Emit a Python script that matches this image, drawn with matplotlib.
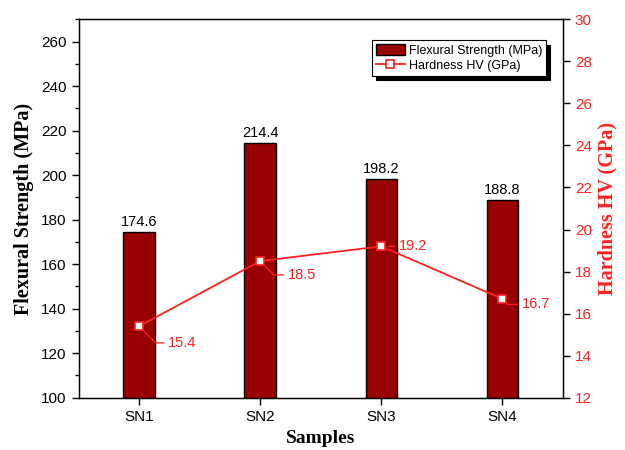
import numpy as np
import matplotlib
matplotlib.use("Agg")
import matplotlib.pyplot as plt
from matplotlib.ticker import MultipleLocator

samples = ["SN1", "SN2", "SN3", "SN4"]
flexural_strength = [174.6, 214.4, 198.2, 188.8]
hardness = [15.4, 18.5, 19.2, 16.7]

# label offsets (points) for the hardness values
hv_offsets = [(21, -12), (20, -10), (13, 0), (14, -4)]

plt.rcParams['font.family'] = ['Liberation Sans', 'DejaVu Sans']
serif = ['Liberation Serif', 'DejaVu Serif']
bar_color = '#990000'
line_color = '#ff2020'

fig = plt.figure(figsize=(6.25, 4.5), dpi=100)
ax = fig.add_axes([0.1256, 0.1162, 0.7752, 0.8410])
x = np.arange(1, len(samples) + 1)

bars = ax.bar(x, flexural_strength, width=0.26, color=bar_color,
              edgecolor='black', linewidth=1.0, label='Flexural Strength (MPa)', zorder=2)
for xi, v in zip(x, flexural_strength):
    ax.annotate(f"{v}", (xi, v), xytext=(0, 2), textcoords='offset points',
                ha='center', va='bottom', fontsize=10.5)

ax.set_xlim(0.5, 4.5)
ax.set_ylim(100, 270)
ax.set_xticks(x)
ax.set_xticklabels(samples)
ax.yaxis.set_major_locator(MultipleLocator(20))
ax.yaxis.set_minor_locator(MultipleLocator(10))
ax.tick_params(axis='both', which='major', direction='out', length=5, width=1, labelsize=11)
ax.tick_params(axis='y', which='minor', direction='out', length=3, width=1)
ax.set_ylabel('Flexural Strength (MPa)', family=serif, fontweight='bold', fontsize=14.5, labelpad=5)
ax.set_xlabel('Samples', family=serif, fontweight='bold', fontsize=14, labelpad=5)
for s in ax.spines.values():
    s.set_linewidth(1.0)

ax2 = ax.twinx()
line, = ax2.plot(x, hardness, color=line_color, linewidth=1.3, marker='s', markersize=6,
                 markerfacecolor='white', markeredgecolor=line_color, markeredgewidth=1.2,
                 label='Hardness HV (GPa)', zorder=3)
ax2.set_ylim(12, 30)
ax2.yaxis.set_major_locator(MultipleLocator(2))
ax2.tick_params(axis='y', which='major', direction='out', length=5, width=1,
                labelsize=11, labelcolor=line_color)
ax2.set_ylabel('Hardness HV (GPa)', family=serif, fontweight='bold', fontsize=14.5,
               color=line_color, labelpad=4)

# leader lines: short horizontal run into the label, diagonal back to the point
for xi, v, (dx, dy) in zip(x, hardness, hv_offsets):
    if dy == 0:
        cs = 'arc3'
    else:
        cs = 'angle,angleA=0,angleB=-45,rad=0'
    ax2.annotate(f"{v}", (xi, v), xytext=(dx, dy), textcoords='offset points',
                 ha='left', va='center', fontsize=10.5, color=line_color,
                 arrowprops=dict(arrowstyle='-', color=line_color, lw=0.9,
                                 shrinkA=1, shrinkB=5, connectionstyle=cs))

leg = ax2.legend([bars, line], ['Flexural Strength (MPa)', 'Hardness HV (GPa)'],
                 loc='upper left', bbox_to_anchor=(0.606, 0.944), borderaxespad=0,
                 fontsize=9, frameon=True, fancybox=False, edgecolor='black',
                 shadow={'color': 'black', 'alpha': 1, 'ox': 3, 'oy': -3},
                 borderpad=0.3, handlelength=2.3, handleheight=1.0,
                 handletextpad=0.35, labelspacing=0.15)
leg.get_frame().set_linewidth(0.8)

fig.savefig('out.png', dpi=100)
